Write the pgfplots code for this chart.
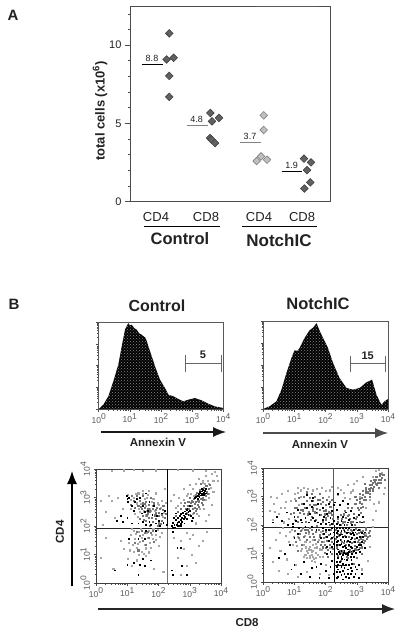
\documentclass[border=0pt]{standalone}
\usepackage{pgfplots}
\pgfplotsset{compat=1.18}
\usepackage{fontspec}
\setmainfont{Liberation Sans}
\usetikzlibrary{patterns,arrows.meta}
\newcommand\tp[1]{10\raisebox{.42em}{\scalebox{1.0}{#1}}}
\definecolor{ink}{gray}{0.13}
\pgfplotsset{
 logminor/.style={minor xtick={0.30,0.48,0.6,0.7,0.78,0.85,0.9,0.95,1.3,1.48,1.6,1.7,1.78,1.85,1.9,1.95,2.3,2.48,2.6,2.7,2.78,2.85,2.9,2.95,3.3,3.48,3.6,3.7,3.78,3.85,3.9,3.95}},
 base/.style={scale only axis,axis line style={draw=black!65,line width=0.6pt},tick style={draw=black!70,line width=0.5pt},
   xtick={0,1,2,3,4},xticklabels={\tp0,\tp1,\tp2,\tp3,\tp4},xmin=0,xmax=4,clip=false,
   major tick length=2.5pt,minor tick length=1.5pt,tick align=outside,xtick pos=bottom,ytick pos=left,
   ticklabel style={font=\fontsize{8.5}{9}\selectfont,text=black!65},xticklabel style={yshift=1.5pt},logminor},
 hst/.style={base,width=124.5pt,height=87pt,ymin=0,ymax=1,
   ytick={0,0.25,0.5,0.75,1},yticklabels={},
   minor ytick={0.075,0.12,0.15,0.175,0.195,0.21,0.225,0.24,0.325,0.37,0.4,0.425,0.445,0.46,0.475,0.49,0.575,0.62,0.65,0.675,0.695,0.71,0.725,0.74,0.825,0.87,0.9,0.925,0.945,0.96,0.975,0.99}},
 sc/.style={base,width=125pt,height=114pt,ymin=0,ymax=4,ytick={0,1,2,3,4},yticklabels={\tp0,\tp1,\tp2,\tp3,\tp4},
   axis line style={draw=black!75,line width=0.7pt},
   minor ytick={0.30,0.48,0.6,0.7,0.78,0.85,0.9,0.95,1.3,1.48,1.6,1.7,1.78,1.85,1.9,1.95,2.3,2.48,2.6,2.7,2.78,2.85,2.9,2.95,3.3,3.48,3.6,3.7,3.78,3.85,3.9,3.95},
   yticklabel style={rotate=90,anchor=south,yshift=0pt}},
 histfill/.style={draw=none,preaction={fill=black},pattern=crosshatch dots,pattern color=black!45},
 blk/.style={black,only marks,mark=square*,mark size=0.42pt,mark options={draw=none,fill=black}},
 grm/.style={black!55,only marks,mark=square*,mark size=0.55pt,mark options={draw=none,fill=black!55}},
 ltm/.style={black!35,only marks,mark=square*,mark size=0.55pt,mark options={draw=none,fill=black!35}},
 dia/.style={only marks,mark=square*,mark size=2.7pt,mark options={rotate=45,draw=black!75,fill=black!62,line width=0.6pt}},
 dial/.style={only marks,mark=square*,mark size=2.7pt,mark options={rotate=45,draw=black!50,fill=black!25,line width=0.6pt}},
}
\begin{document}
\begin{tikzpicture}[x=1pt,y=1pt]
\path[use as bounding box] (0,0) rectangle (400,-634);
%%% Panel A
\node[font=\bfseries\fontsize{15}{16}\selectfont,text=ink] at (13,-15) {A};
\begin{axis}[at={(130pt,-201.5pt)},anchor=south west,scale only axis,width=200pt,height=195.5pt,
  xmin=0,xmax=200,ymin=0,ymax=12.5,clip=false,axis line style={draw=black!70,line width=0.7pt},
  xtick={26,76,129,172},xticklabels={CD4,CD8,CD4,CD8},major x tick style={draw=none},
  x tick label style={font=\fontsize{13}{14}\selectfont,text=ink,yshift=-2.5pt},
  ytick={0,5,10},yticklabels={0,5,10},minor ytick={1,2,3,4,6,7,8,9,11,12},ytick pos=left,xtick pos=bottom,
  tick align=outside,major tick length=5pt,minor tick length=2.5pt,tick style={draw=black!70,line width=0.6pt},
  y tick label style={font=\fontsize{11}{11}\selectfont,text=ink},
]
\addplot[dia] coordinates {(39.3,10.75)(36.7,9.08)(43.7,9.19)(39.3,8.03)(39.3,6.69)};
\addplot[dia] coordinates {(80.3,5.66)(82,5.13)(89,5.34)(80,4.06)(81.5,3.96)(85,3.74)};
\addplot[dial] coordinates {(133.7,5.51)(133.7,4.57)(126.7,2.59)(131,2.88)(137,2.67)};
\addplot[dia] coordinates {(174,2.74)(181,2.5)(177,2.0)(180.3,1.22)(174.3,0.83)};
\addplot[black,line width=0.9pt] coordinates {(11.7,8.78)(32.7,8.78)};
\addplot[black!50,line width=0.9pt] coordinates {(57.3,4.85)(77.7,4.85)};
\addplot[black!50,line width=0.9pt] coordinates {(110,3.78)(131,3.78)};
\addplot[black,line width=0.9pt] coordinates {(151.7,1.94)(171.7,1.94)};
\addplot[black!65,line width=1pt] coordinates {(127,12.5)(187,12.5)};
\node[font=\fontsize{9}{9}\selectfont,text=ink] at (axis cs:22,9.17) {8.8};
\node[font=\fontsize{9}{9}\selectfont,text=ink] at (axis cs:66.7,5.23) {4.8};
\node[font=\fontsize{9}{9}\selectfont,text=ink] at (axis cs:120,4.17) {3.7};
\node[font=\fontsize{9}{9}\selectfont,text=ink] at (axis cs:161.7,2.29) {1.9};
\end{axis}
\node[rotate=90,font=\bfseries\fontsize{13}{14}\selectfont,text=ink] at (100,-111) {total cells (x10\raisebox{.4em}{\fontsize{9.5}{10}\selectfont 6})};
\draw[black,line width=1.2pt] (144,-226.5) -- (220,-226.5);
\draw[black,line width=1.0pt] (242,-226.5) -- (317,-226.5);
\node[font=\bfseries\fontsize{16.5}{17}\selectfont,text=ink] at (180,-239) {Control};
\node[font=\bfseries\fontsize{17}{18}\selectfont,text=ink] at (279,-240) {NotchIC};
%%% Panel B
\node[font=\bfseries\fontsize{15}{16}\selectfont,text=ink] at (14,-304) {B};
\node[font=\bfseries\fontsize{16}{17}\selectfont,text=ink] at (157,-306) {Control};
\node[font=\bfseries\fontsize{16.5}{17}\selectfont,text=ink] at (318,-304) {NotchIC};
%% histograms
\begin{axis}[hst,at={(98.7pt,-409pt)},anchor=south west]
\addplot[histfill] coordinates {(0,0)(0.15,0.05)(0.31,0.146)(0.47,0.318)(0.63,0.51)(0.74,0.72)(0.845,0.912)(0.95,0.988)(1.0,0.96)(1.06,0.969)(1.14,0.93)(1.22,0.912)(1.3,0.87)(1.38,0.854)(1.51,0.816)(1.65,0.663)(1.81,0.49)(1.97,0.337)(2.13,0.241)(2.24,0.165)(2.4,0.146)(2.56,0.115)(2.72,0.088)(2.88,0.107)(3.09,0.126)(3.3,0.1)(3.52,0.061)(3.73,0.03)(4,0.012)(4,0)} \closedcycle;
\addplot[black!60,line width=0.9pt] coordinates {(2.8,0.42)(2.8,0.615)};
\addplot[black!60,line width=0.9pt] coordinates {(2.8,0.52)(3.94,0.52)};
\addplot[black!60,line width=0.9pt] coordinates {(3.94,0.42)(3.94,0.615)};
\node[font=\bfseries\fontsize{11}{12}\selectfont,text=ink] at (axis cs:3.35,0.62) {5};
\end{axis}
\begin{axis}[hst,at={(263pt,-409pt)},anchor=south west,width=125pt,height=88pt]
\addplot[histfill] coordinates {(0,0)(0.21,0.03)(0.43,0.087)(0.59,0.22)(0.75,0.41)(0.91,0.58)(1.01,0.667)(1.1,0.66)(1.17,0.693)(1.33,0.807)(1.49,0.894)(1.62,0.93)(1.71,0.977)(1.8,0.9)(1.87,0.845)(2.08,0.693)(2.24,0.523)(2.45,0.352)(2.67,0.239)(2.88,0.22)(3.09,0.239)(3.31,0.303)(3.49,0.333)(3.63,0.163)(3.79,0.049)(3.89,0.087)(4,0.114)(4,0)} \closedcycle;
\addplot[black!60,line width=0.9pt] coordinates {(2.81,0.42)(2.81,0.606)};
\addplot[black!60,line width=0.9pt] coordinates {(2.81,0.523)(3.93,0.523)};
\addplot[black!60,line width=0.9pt] coordinates {(3.93,0.42)(3.93,0.606)};
\node[font=\bfseries\fontsize{11}{12}\selectfont,text=ink] at (axis cs:3.35,0.61) {15};
\end{axis}
\draw[-{Latex[length=13pt,width=10pt]},black!90,line width=1.1pt] (101,-432) -- (226,-432);
\draw[-{Latex[length=13pt,width=10pt]},black!70,line width=1.1pt] (263,-433) -- (388,-433);
\node[font=\bfseries\fontsize{11.5}{12}\selectfont,text=ink] at (158,-442) {Annexin V};
\node[font=\bfseries\fontsize{11.5}{12}\selectfont,text=ink] at (320,-444) {Annexin V};
%% scatter control
\begin{axis}[sc,at={(96pt,-583pt)},anchor=south west]
\addplot[ltm] coordinates {(1.0,3.1)(1.1,2.6)(1.2,3.0)(1.3,2.8)(1.35,3.15)(1.4,2.5)(1.5,3.25)(1.55,2.95)(1.6,2.7)(1.65,3.1)(1.7,3.25)(1.75,2.55)(1.85,2.95)(1.9,3.15)(2.0,2.75)(2.1,2.9)(2.2,3.3)(0.5,2.9)(0.6,2.3)(0.7,3.0)(0.3,2.5)(0.2,2.05)(0.15,2.9)(0.85,2.6)(0.4,3.05)
(0.8,1.5)(0.9,1.2)(1.0,0.85)(1.05,1.4)(1.1,1.7)(1.15,0.6)(1.2,1.1)(1.25,1.55)(1.3,1.25)(1.3,0.8)(1.35,1.8)(1.4,1.45)(1.45,1.1)(1.5,1.7)(1.55,1.35)(1.6,0.95)(1.65,1.6)(1.7,1.85)(1.75,1.25)(1.8,1.55)(1.85,0.5)(1.9,1.7)(2.0,1.3)(2.1,1.75)(2.15,0.4)(0.3,1.6)(0.15,0.9)(0.55,0.5)
(2.5,1.6)(2.6,0.9)(2.7,1.5)(2.8,1.2)(2.9,1.75)(3.0,1.55)(3.05,1.0)(3.1,1.7)(3.2,0.7)(3.3,1.3)(3.4,1.5)(2.7,0.3)(3.55,1.8)(2.9,0.6)
(2.4,2.9)(2.5,3.1)(2.55,2.65)(2.65,3.0)(2.8,3.3)(2.9,3.05)(3.0,3.45)(3.1,3.3)(3.2,3.5)(3.3,3.65)(3.4,3.6)(3.5,3.75)(3.6,3.5)(3.7,3.85)(3.75,3.6)(3.8,3.9)(3.85,3.75)(3.6,3.0)(3.7,2.75)(3.45,2.6)(3.3,2.35)(3.5,2.2)(3.2,2.1)(3.6,2.4)(3.75,3.2)(3.9,3.6)
(0.5,3.95)(1.2,3.97)(1.9,3.96)(2.6,3.97)(3.1,3.96)(3.5,3.95)(0.9,3.96)(1.5,3.95)
(1.13,1.92)(1.28,1.72)(1.42,1.92)(1.47,1.58)(1.33,1.38)(1.58,1.22)(1.62,1.78)(1.73,1.42)(1.78,1.68)(1.92,1.52)(1.22,1.82)(1.38,0.98)(1.52,1.02)(1.83,1.9)(1.97,1.88)(2.05,1.62)(1.18,1.35)(1.08,1.15)(1.68,1.08)
(1.23,2.42)(1.33,2.32)(1.38,2.62)(1.43,2.78)(1.52,2.52)(1.58,2.38)(1.62,2.98)(1.72,2.62)(1.77,2.85)(1.82,2.95)(1.88,2.55)(1.97,2.8)(2.08,2.65)(2.12,2.32)(2.22,2.82)(2.18,2.48)(1.12,2.92)(1.28,3.12)(1.48,3.12)(1.62,2.55)
(2.62,2.72)(2.72,2.82)(2.82,2.92)(2.92,3.12)(3.02,3.12)(3.12,3.05)(3.08,2.42)(3.22,2.42)(3.32,2.62)(3.52,2.92)(3.62,3.12)(3.68,3.35)(3.58,3.58)(3.42,3.52)(3.48,3.48)};
\addplot[grm] coordinates {(1.2,2.9)(1.25,2.65)(1.3,3.05)(1.35,2.7)(1.4,2.9)(1.45,2.6)(1.5,2.8)(1.5,3.05)(1.55,2.65)(1.6,2.85)(1.65,2.45)(1.7,2.75)(1.75,3.0)(1.8,2.6)(1.85,2.8)(1.9,2.45)(1.95,2.65)(2.0,2.35)(2.05,2.6)(2.1,2.4)(2.15,2.7)(2.2,2.3)(1.1,2.75)(1.15,3.05)(1.0,2.85)(1.4,2.25)(1.5,2.35)(1.6,2.2)(1.7,2.3)(1.8,2.15)(1.9,2.25)(2.0,2.1)(2.1,2.2)
(1.3,1.8)(1.4,1.65)(1.45,1.85)(1.5,1.5)(1.55,1.75)(1.6,1.35)(1.65,1.8)(1.7,1.6)(1.75,1.75)(1.8,1.85)(1.85,1.45)(1.25,1.4)(1.35,1.15)
(2.85,2.3)(2.9,2.45)(2.95,2.7)(3.0,2.4)(3.05,2.9)(3.1,2.6)(3.1,2.85)(3.15,2.65)(3.2,2.55)(3.2,2.85)(3.25,2.75)(3.3,3.1)(3.3,2.85)(3.35,2.95)(3.4,3.3)(3.4,3.0)(3.45,3.35)(3.5,3.05)(3.55,3.4)(3.55,3.2)(3.6,3.3)(2.95,2.85)(3.0,3.0)(3.65,3.45)
(3.35,3.5)(2.7,2.6)(2.6,2.5)(2.8,2.7)(2.55,2.35)(3.4,2.75)
(3.07,2.72)(3.12,2.95)(3.17,2.78)(3.22,2.62)(3.27,2.88)(3.28,2.68)(3.37,2.82)(3.43,2.92)(3.47,3.12)(3.02,2.82)(2.88,2.62)(2.83,2.82)(2.98,2.62)(3.12,2.48)(3.18,3.08)(3.23,3.18)(3.33,3.28)(3.52,3.42)(3.58,3.12)
(1.42,2.68)(1.57,2.78)(1.67,2.62)(1.72,2.52)(1.83,2.72)(1.92,2.58)(2.02,2.48)(2.12,2.58)(2.22,2.42)(1.78,2.28)(1.88,2.38)(1.98,2.02)(2.08,2.08)(1.62,2.38)(1.52,2.22)(1.72,2.02)};
\addplot[blk] coordinates {(2.42,2.0)(2.45,2.12)(2.5,2.05)(2.52,1.96)(2.55,2.22)(2.58,2.06)(2.6,2.12)(2.62,2.3)(2.65,2.16)(2.65,2.0)(2.68,2.36)(2.7,2.22)(2.7,2.08)(2.72,2.42)(2.75,2.3)(2.75,2.15)(2.78,2.46)(2.8,2.38)(2.8,2.25)(2.82,2.1)(2.85,2.52)(2.85,2.34)(2.88,2.42)(2.9,2.25)(2.9,2.56)(2.92,2.62)(2.95,2.4)(2.95,2.5)(3.0,2.55)(3.02,2.35)(3.05,2.2)(2.6,2.02)(2.55,2.45)(2.48,2.28)(3.0,2.7)(2.7,2.02)(3.1,2.3)
(3.2,3.02)(3.25,3.05)(3.25,2.95)(3.28,3.12)(3.3,3.02)(3.32,3.16)(3.35,3.08)(3.35,3.22)(3.38,3.12)(3.4,3.22)(3.42,3.1)(3.42,3.28)(3.45,3.18)(3.48,3.25)(3.5,3.15)(3.5,3.32)(3.3,3.2)(3.15,2.98)(3.38,3.3)(3.45,3.1)
(0.98,3.05)(1.0,2.95)(1.05,3.0)(1.02,2.85)(1.3,2.95)(1.4,3.0)(1.5,2.7)(1.6,3.15)(1.15,2.7)(1.2,2.55)(1.25,2.85)(1.55,2.5)(1.7,2.85)(1.45,2.45)(1.65,2.55)(1.8,2.4)(1.85,2.7)(2.0,2.2)(1.9,2.1)(1.75,2.05)(1.6,2.05)(1.5,2.15)(1.35,2.1)(1.15,2.1)(2.1,2.45)(0.8,2.35)(0.85,2.15)(1.0,2.3)(2.15,2.12)(2.25,2.05)(2.2,2.55)(2.05,2.0)(1.95,2.35)(1.7,2.15)(0.65,2.2)
(1.6,1.85)(1.55,1.55)(1.35,1.55)(1.05,1.55)(1.0,0.65)(1.2,0.7)(1.4,0.65)(1.5,0.85)(1.55,0.6)(0.6,0.45)(1.75,0.8)(1.9,1.85)(2.45,1.8)(2.6,1.25)(2.7,1.25)(2.9,0.3)(2.42,0.45)(2.45,0.3)(2.75,0.6)(1.35,0.3)
(2.45,1.95)};
\addplot[black,line width=0.9pt] coordinates {(2.3,2)(2.3,4)};
\addplot[black!55,line width=1pt] coordinates {(2.3,0)(2.3,2)};
\addplot[black!85,line width=0.7pt] coordinates {(0,1.93)(4,1.93)};
\end{axis}
%% scatter notch
\begin{axis}[sc,at={(263pt,-582pt)},anchor=south west]
\addplot[ltm] coordinates {(0.2,2.5)(0.25,3.0)(0.3,2.2)(0.35,2.75)(0.4,1.5)(0.45,2.95)(0.5,2.4)(0.55,1.1)(0.6,3.1)(0.65,2.1)(0.7,2.6)(0.75,0.8)(0.8,3.2)(0.85,1.75)(0.9,2.85)(0.95,1.3)(1.0,3.1)(1.0,2.2)(1.05,0.6)(1.1,3.3)(1.1,1.6)(1.15,2.7)(1.2,1.1)(1.2,3.0)(1.25,1.85)(1.3,3.3)(1.3,0.9)(1.35,1.4)(1.4,1.1)(1.45,1.7)(1.5,0.85)(1.5,1.25)(1.55,0.95)(1.6,1.5)(1.6,1.1)(1.65,0.7)(1.7,1.35)(1.75,0.95)(1.8,1.15)(1.85,1.75)(1.9,0.9)(1.95,1.4)(2.0,3.2)(2.0,0.6)(2.1,3.0)(2.15,1.2)(2.2,3.35)(2.4,3.05)(2.5,3.25)(2.6,2.95)(2.7,3.4)(2.8,3.15)(2.9,3.45)(3.0,3.55)(3.1,3.0)(3.2,3.7)(3.3,2.6)(3.4,2.9)(3.5,3.7)(3.55,2.75)(3.6,3.9)(3.7,3.95)(3.8,3.85)(3.85,3.1)(3.7,2.8)(3.9,3.3)(3.5,2.2)(3.3,1.7)(3.4,1.25)(3.5,1.95)(3.35,0.75)(3.6,2.5)(3.15,0.45)
(0.3,0.7)(0.5,0.4)(0.8,0.3)(1.1,0.2)(1.4,0.35)(1.8,0.3)(2.1,0.25)(0.2,1.2)
(1.3,1.3)(1.35,0.95)(1.45,1.15)(1.5,1.4)(1.55,0.75)(1.65,1.2)(1.7,0.85)(1.4,0.85)(1.55,1.05)(1.6,0.9)
(1.42,1.02)(1.48,0.92)(1.52,1.12)(1.58,1.32)(1.62,0.82)(1.68,1.02)(1.72,1.22)(1.78,1.48)(1.82,0.88)(1.38,1.22)(1.33,1.62)(1.23,1.18)(1.18,1.48)(1.08,1.28)(0.98,1.58)(1.88,1.12)(0.72,1.62)(0.62,1.9)(0.52,1.72)(0.82,1.42)(0.92,1.82)(0.82,2.22)(0.72,2.82)(0.58,2.62)(0.38,2.48)(1.02,2.92)(1.12,3.12)(1.22,3.22)(1.42,3.28)(1.58,3.22)(1.72,3.28)(1.88,3.32)(2.12,3.22)(2.38,3.32)(2.58,3.12)(2.78,2.92)(2.88,3.22)};
\addplot[grm] coordinates {(0.9,2.4)(1.0,2.6)(1.05,2.85)(1.1,2.3)(1.15,2.95)(1.2,2.55)(1.25,2.75)(1.3,2.4)(1.3,3.0)(1.35,2.6)(1.4,2.85)(1.4,3.15)(1.45,2.45)(1.5,2.7)(1.5,2.95)(1.55,2.3)(1.55,3.1)(1.6,2.6)(1.6,2.85)(1.65,2.45)(1.65,3.0)(1.7,2.7)(1.7,2.2)(1.75,2.9)(1.8,2.55)(1.8,3.1)(1.85,2.35)(1.85,2.75)(1.9,2.95)(1.95,2.5)(2.0,2.7)(2.0,2.25)(2.05,2.9)(2.1,2.45)(2.15,2.65)(2.2,2.35)(2.2,2.9)
(1.0,1.8)(1.05,1.4)(1.1,1.1)(1.15,1.55)(1.2,1.8)(1.25,1.3)(1.3,1.6)(1.35,1.85)(1.4,1.5)(1.45,1.75)(1.5,1.6)(1.55,1.85)(1.6,1.7)(1.65,1.5)(1.7,1.75)(1.75,1.4)(1.8,1.65)(1.85,1.3)(1.9,1.8)(1.95,1.55)(2.0,1.2)(2.0,1.75)(2.05,1.45)(2.1,1.65)(2.15,1.85)(2.2,1.4)(2.2,1.0)(2.25,1.6)
(2.4,2.1)(2.5,2.35)(2.55,2.1)(2.6,2.5)(2.65,2.25)(2.7,2.6)(2.75,2.35)(2.8,2.1)(2.85,2.6)(2.9,2.4)(2.95,2.75)(3.0,2.3)(3.0,2.9)(3.05,2.55)(3.1,2.8)(3.1,3.1)(3.15,2.95)(3.2,3.2)(3.2,2.65)(3.25,3.0)(3.3,3.3)(3.3,2.9)(3.35,3.15)(3.4,3.4)(3.4,3.1)(3.45,3.3)(3.5,3.5)(3.5,3.2)(3.55,3.6)(3.55,3.35)(3.6,3.45)(3.65,3.7)(3.65,3.4)(3.7,3.6)(3.75,3.8)(3.75,3.5)(3.8,3.65)(3.85,3.75)(3.9,3.6)(3.6,3.7)(3.45,3.55)(3.3,3.15)(3.15,2.75)(3.7,3.3)(3.25,3.45)(2.95,3.0)
(2.4,1.7)(2.5,1.5)(2.55,1.1)(2.6,1.75)(2.65,1.3)(2.7,0.85)(2.75,1.6)(2.8,1.05)(2.85,1.8)(2.9,1.4)(2.95,1.15)(3.0,1.7)(3.05,1.5)(3.1,1.85)(3.1,1.2)(3.15,1.6)(3.2,1.8)(3.25,1.45)(3.3,1.9)(3.35,1.6)(3.4,1.8)(3.15,1.0)(3.0,0.85)(2.5,0.75)(2.9,0.65)
(2.32,1.82)(2.33,1.52)(2.37,1.22)(2.38,0.92)(2.42,1.62)(2.43,1.32)(2.47,1.08)(2.48,1.72)(2.52,1.42)(2.53,1.02)(2.57,1.82)(2.58,1.38)(2.62,1.62)(2.63,1.02)(2.67,1.42)(2.68,0.88)(2.72,1.82)(2.73,1.28)(2.77,1.72)(2.78,1.12)(2.82,1.82)(2.83,1.38)(2.87,1.08)(2.88,1.72)(2.92,1.28)(2.93,1.52)(2.97,1.88)(2.98,1.02)(3.02,1.42)(3.03,1.12)(3.07,1.72)(3.08,1.38)(3.12,1.52)(3.13,1.78)(3.17,1.22)(3.18,1.48)(3.22,1.38)(3.23,1.68)(3.27,1.62)(3.28,1.82)(3.32,1.52)(3.37,1.72)(3.42,1.62)
(1.72,1.98)(1.78,1.82)(1.82,1.58)(1.88,1.42)(1.92,1.68)(1.98,1.32)(2.02,1.58)(2.08,1.12)(2.12,1.32)(2.18,1.52)(2.22,1.18)(2.08,0.88)(1.98,1.02)(1.92,1.22)(1.18,1.68)(1.28,1.92)(1.42,1.82)(1.48,1.92)(1.62,1.58)(1.38,1.72)
(1.92,2.12)(1.98,2.38)(2.02,2.18)(2.08,2.32)(2.12,2.02)(2.18,2.42)(2.22,2.22)(2.02,2.52)(1.72,2.42)(1.58,2.52)(1.42,2.38)(1.28,2.52)(1.18,2.42)(1.08,2.62)(0.98,2.42)(1.12,2.12)(1.38,2.12)(1.52,2.18)(2.12,2.82)(1.92,2.82)(1.72,2.58)(1.82,2.88)(1.62,2.72)
(2.38,2.22)(2.48,2.02)(2.52,2.22)(2.58,2.38)(2.62,2.12)(2.68,2.02)(2.72,2.32)(2.78,2.22)(2.88,2.12)(2.92,2.02)(2.98,2.22)(3.08,2.12)(3.12,2.42)(3.22,2.12)(3.02,2.62)(3.08,2.92)(3.22,2.88)(3.28,3.12)(3.38,3.28)(3.42,2.98)(3.48,3.42)(3.52,3.28)(3.58,3.52)(3.62,3.58)(3.68,3.48)(3.72,3.72)(3.78,3.58)(3.82,3.78)(3.42,3.22)(3.28,3.22)(3.18,3.05)(3.12,2.62)};
\addplot[blk] coordinates {(0.95,2.05)(1.0,2.3)(1.05,2.15)(1.1,2.55)(1.2,2.2)(1.25,2.1)(1.3,2.75)(1.35,2.25)(1.4,2.6)(1.45,2.1)(1.5,2.4)(1.55,2.65)(1.6,2.25)(1.6,2.95)(1.65,2.15)(1.7,2.45)(1.75,2.75)(1.75,2.1)(1.8,2.35)(1.85,2.05)(1.9,2.6)(1.9,2.2)(1.95,2.3)(2.0,2.05)(2.05,2.4)(2.1,2.1)(2.1,2.75)(2.15,2.25)(2.2,2.05)(2.2,2.5)(2.25,2.15)(2.25,2.7)(0.6,2.15)(0.45,2.3)(0.3,2.1)(0.8,2.0)(0.75,2.45)(1.4,3.05)(1.55,2.85)
(2.35,2.05)(2.4,2.3)(2.45,2.0)(2.5,2.15)(2.55,2.3)(2.6,2.0)(2.65,2.45)(2.7,2.1)(2.75,2.2)(2.8,2.5)(2.85,2.0)(2.9,2.25)(3.0,2.1)(3.05,2.35)(3.15,2.1)(2.35,2.55)(2.45,2.7)(2.55,2.85)(2.3,2.8)(2.4,3.1)(2.7,2.75)(3.2,2.3)
(1.9,1.9)(1.95,1.7)(2.0,1.85)(2.05,1.6)(2.05,1.25)(2.1,1.85)(2.1,1.45)(2.15,1.7)(2.15,1.05)(2.2,1.9)(2.2,1.55)(2.2,1.25)(2.25,1.75)(2.25,1.35)(2.05,1.0)(1.85,1.55)(1.7,1.85)(1.55,1.95)(1.35,1.95)(1.15,1.9)(1.0,1.55)(0.95,1.95)(1.1,1.7)(0.85,1.3)
(2.35,1.9)(2.35,1.6)(2.35,1.3)(2.35,1.0)(2.35,0.7)(2.4,1.8)(2.4,1.45)(2.4,1.15)(2.4,0.85)(2.45,1.9)(2.45,1.65)(2.45,1.3)(2.45,1.0)(2.5,1.8)(2.5,1.35)(2.5,1.1)(2.5,0.9)(2.55,1.9)(2.55,1.6)(2.55,1.25)(2.55,0.95)(2.6,1.8)(2.6,1.45)(2.6,1.1)(2.6,0.8)(2.65,1.9)(2.65,1.6)(2.65,1.2)(2.65,1.0)(2.7,1.75)(2.7,1.45)(2.7,1.15)(2.7,0.95)(2.75,1.9)(2.75,1.3)(2.75,1.05)(2.8,1.7)(2.8,1.5)(2.8,1.25)(2.8,0.9)(2.85,1.55)(2.85,1.2)(2.85,1.0)(2.9,1.85)(2.9,1.65)(2.9,1.1)(2.9,0.9)(2.95,1.75)(2.95,1.4)(3.0,1.25)(3.0,1.55)(3.05,1.85)(3.05,1.3)(3.1,1.6)(3.1,1.05)(3.15,1.4)(3.2,1.6)(3.25,1.75)(3.25,1.2)
(2.35,0.55)(2.35,0.35)(2.35,0.15)(2.4,0.6)(2.4,0.45)(2.4,0.2)(2.45,0.7)(2.45,0.35)(2.5,0.55)(2.5,0.25)(2.55,0.65)(2.55,0.4)(2.55,0.1)(2.6,0.5)(2.6,0.3)(2.65,0.6)(2.65,0.2)(2.7,0.45)(2.7,0.3)(2.75,0.6)(2.75,0.15)(2.8,0.5)(2.8,0.3)(2.85,0.65)(2.85,0.4)(2.9,0.2)(2.95,0.55)(2.95,0.3)(3.0,0.45)(3.05,0.6)(3.05,0.15)(3.15,0.3)
(0.7,1.0)(1.0,0.6)(1.3,0.7)(1.55,0.5)(1.7,0.55)(1.85,0.65)(2.0,0.4)(2.15,0.55)(1.2,0.3)(0.9,0.45)(1.5,0.2)(1.8,0.15)(2.1,0.15)(0.5,0.85)(2.2,0.75)(2.25,0.3)
(2.37,1.72)(2.42,1.05)(2.47,1.48)(2.52,1.68)(2.57,1.02)(2.62,1.28)(2.67,1.72)(2.72,1.02)(2.77,1.42)(2.82,1.08)(2.87,1.72)(2.92,1.42)(2.97,1.02)(3.02,1.82)(3.07,1.15)(3.12,1.32)(3.17,1.72)(2.37,1.42)(2.52,0.82)(2.67,0.78)(2.82,0.78)};
\addplot[black!65,line width=1pt] coordinates {(2.27,2)(2.27,4)};
\addplot[black,line width=0.8pt] coordinates {(2.27,0)(2.27,2)};
\addplot[black!90,line width=0.7pt] coordinates {(2.27,0.6)(2.65,0.6)};
\addplot[black!85,line width=0.7pt] coordinates {(0,1.93)(4,1.93)};
\end{axis}
\draw[-{Latex[length=13pt,width=10pt]},black,line width=1.2pt] (72,-586) -- (72,-471);
\draw[-{Latex[length=13pt,width=10pt]},black!85,line width=1.2pt] (98,-609) -- (395,-609);
\node[rotate=90,font=\bfseries\fontsize{11.5}{12}\selectfont,text=ink] at (60,-532) {CD4};
\node[font=\bfseries\fontsize{11.5}{12}\selectfont,text=ink] at (247,-623) {CD8};
\end{tikzpicture}
\end{document}
